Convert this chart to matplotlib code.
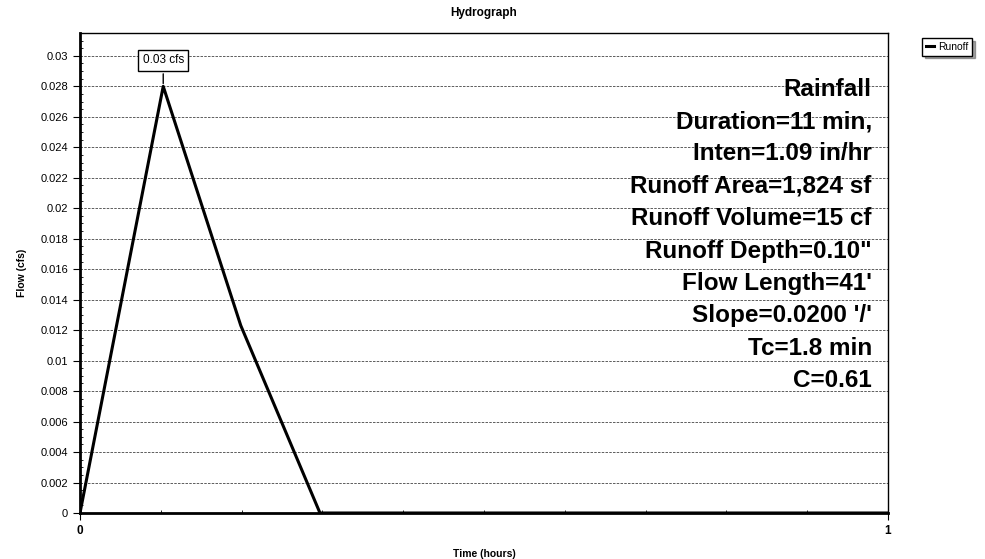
import matplotlib
matplotlib.use("Agg")
import matplotlib.pyplot as plt
import numpy as np

# hydrograph
time_hr = [0.0, 0.103, 0.199, 0.297, 1.0]
flow_cfs = [0.0, 0.028, 0.0123, 0.0, 0.0]
peak_label = "0.03 cfs"

info_lines = ["Rainfall", "Duration=11 min,", "Inten=1.09 in/hr",
              "Runoff Area=1,824 sf", "Runoff Volume=15 cf",
              "Runoff Depth=0.10\"", "Flow Length=41'",
              "Slope=0.0200 '/'", "Tc=1.8 min", "C=0.61"]

plt.rcParams['font.family'] = ['Liberation Sans', 'DejaVu Sans']

fig = plt.figure(figsize=(9.85, 5.59), dpi=100)
ax = fig.add_axes([80/985, 46/559, 808/985, 480/559])

ax.plot(time_hr, flow_cfs, color='black', lw=2.2, label='Runoff', zorder=3)
ax.set_xlim(0, 1)
ax.set_ylim(0, 0.0315)

yt = np.arange(0, 0.0301, 0.002)
ax.set_yticks(yt)
ax.set_yticklabels(['%g' % round(v, 3) for v in yt], fontsize=8)
ax.set_yticks(np.arange(0, 0.0315, 0.0005), minor=True)
ax.set_xticks([0, 1])
ax.set_xticklabels(['0', '1'], fontsize=8.5, fontweight='bold')
ax.set_xticks(np.arange(0, 1.0, 0.1), minor=True)
ax.tick_params(axis='y', which='major', length=5, width=0.8)
ax.tick_params(axis='y', which='minor', length=2, width=0.6, direction='in')
ax.tick_params(axis='x', which='major', length=5, width=0.8)
ax.tick_params(axis='x', which='minor', length=2, width=0.6, direction='in')

ax.grid(True, axis='y', which='major', ls=(0, (3, 1.5)), color='#444444', lw=0.6)
for s in ax.spines.values():
    s.set_linewidth(1.0)
ax.spines['left'].set_linewidth(2.0)
ax.spines['bottom'].set_linewidth(2.0)

ax.set_title("Hydrograph", fontsize=8.5, fontweight='bold', pad=12)
ax.set_xlabel("Time (hours)", fontsize=7.5, fontweight='bold', labelpad=9)
ax.set_ylabel("Flow (cfs)", fontsize=7.5, fontweight='bold', labelpad=10)

# peak callout
pk = int(np.argmax(flow_cfs))
ax.annotate(peak_label, xy=(time_hr[pk], flow_cfs[pk]),
            xytext=(time_hr[pk], 0.0297), ha='center', va='center', fontsize=8.5,
            bbox=dict(boxstyle='square,pad=0.35', fc='white', ec='black', lw=1.0),
            arrowprops=dict(arrowstyle='-', color='black', lw=1.0))

# info block
for i, line in enumerate(info_lines):
    ax.text(0.98, 0.883 - i * 0.0675, line, transform=ax.transAxes, ha='right',
            va='center', fontsize=17.5, fontweight='bold', zorder=4)

leg = ax.legend(loc='upper left', bbox_to_anchor=(1.036, 1.0), fontsize=7.5,
                frameon=True, fancybox=False, shadow=True, handlelength=0.8,
                borderpad=0.35, handletextpad=0.4)
leg.get_frame().set_edgecolor('black')

fig.savefig("out.png", dpi=100)
